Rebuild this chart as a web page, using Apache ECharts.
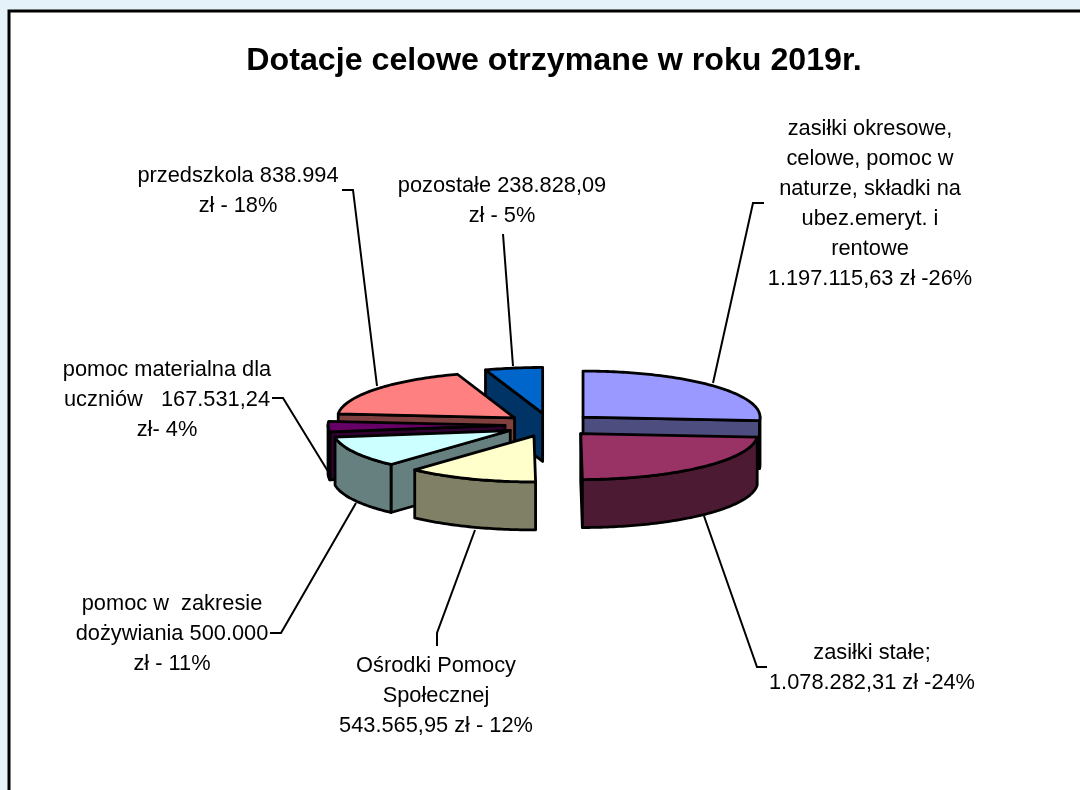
<!DOCTYPE html>
<html>
<head>
<meta charset="utf-8">
<style>html,body{margin:0;padding:0;background:#e5f2fa}#c{width:1080px;height:790px}</style>
<script src="https://cdn.jsdelivr.net/npm/echarts@6/dist/echarts.min.js"></script>
</head>
<body>
<div id="c"></div>
<script>
const titleText = 'Dotacje celowe otrzymane w roku 2019r.';
const categories = ['zasiłki okresowe, celowe, pomoc w naturze, składki na ubez.emeryt. i rentowe', 'zasiłki stałe', 'Ośrodki Pomocy Społecznej', 'pomoc w zakresie dożywiania', 'pomoc materialna dla uczniów', 'przedszkola', 'pozostałe'];
const values = [1197115.63, 1078282.31, 543565.95, 500000, 167531.24, 838994, 238828.09];
const topColors = ['#9999ff', '#993366', '#ffffcc', '#ccffff', '#660066', '#ff8080', '#0066cc'];
const wallColors = ['#4d4d80', '#4d1a33', '#808066', '#668080', '#330033', '#804040', '#003366'];
const labelLines = [
  ['zasiłki okresowe,', 'celowe, pomoc w', 'naturze, składki na', 'ubez.emeryt. i', 'rentowe', '1.197.115,63 zł -26%'],
  ['zasiłki stałe;', '1.078.282,31 zł -24%'],
  ['Ośrodki Pomocy', 'Społecznej', '543.565,95 zł - 12%'],
  ['pomoc w  zakresie', 'dożywiania 500.000', 'zł - 11%'],
  ['pomoc materialna dla', 'uczniów   167.531,24', 'zł- 4%'],
  ['przedszkola 838.994', 'zł - 18%'],
  ['pozostałe 238.828,09', 'zł - 5%']
];
const labelCentres = [[870, 129], [872, 653], [436, 666], [172, 604], [167, 370], [238, 176], [502, 186]];
const leaders = [
  [[713, 383], [753, 203], [764, 203]],
  [[704, 516], [757, 667], [767, 667]],
  [[475, 530], [437, 633], [437, 646]],
  [[356, 503], [281, 633], [270, 633]],
  [[329, 473], [283, 398], [272, 398]],
  [[377, 386], [353, 190], [342, 190]],
  [[513, 366], [503, 234]]
];
const pie = {cx: 550, cy: 425, rx: 177, ry: 46, depth: 48, explode: 45};
const paintOrder = [6, 5, 4, 3, 2, 0, 1];
const LINE = 2.8, FONT = '"Liberation Sans", Arial, sans-serif';

const total = values.reduce((a, b) => a + b, 0);
const startAngles = [];
values.reduce((acc, v, i) => { startAngles[i] = acc / total * 360; return acc + v; }, 0);

function rim(ax, ay, deg, dy) {
  const r = deg * Math.PI / 180;
  return [ax + pie.rx * Math.sin(r), ay - pie.ry * Math.cos(r) + (dy || 0)];
}
function renderSlice(params, api) {
  const i = params.dataIndex;
  const a0 = startAngles[i];
  const a1 = a0 + api.value(0) / total * 360;
  const m = (a0 + a1) / 2 * Math.PI / 180;
  const ax = pie.cx + pie.explode * Math.sin(m);
  const ay = pie.cy - pie.explode * pie.ry / pie.rx * Math.cos(m);
  const z = paintOrder.indexOf(i) * 10;
  const style = (fill) => ({fill, stroke: '#000', lineWidth: LINE, lineJoin: 'round'});
  const kids = [];
  const wall = (deg, zz) => kids.push({type: 'polygon', z2: z + zz, shape: {points: [
    [ax, ay], rim(ax, ay, deg), rim(ax, ay, deg, pie.depth), [ax, ay + pie.depth]]}, style: style(wallColors[i])});
  if (Math.sin(a0 * Math.PI / 180) < 0) wall(a0, 1);
  if (Math.sin(a1 * Math.PI / 180) > 0) wall(a1, 1);
  const lo = Math.max(a0, 90), hi = Math.min(a1, 270);
  if (hi > lo) {
    const up = [], down = [];
    for (let d = lo; d < hi; d += 1) { up.push(rim(ax, ay, d)); down.unshift(rim(ax, ay, d, pie.depth)); }
    up.push(rim(ax, ay, hi)); down.unshift(rim(ax, ay, hi, pie.depth));
    kids.push({type: 'polygon', z2: z + 2, shape: {points: up.concat(down)}, style: style(wallColors[i])});
  }
  const top = [[ax, ay]];
  for (let d = a0; d < a1; d += 1) top.push(rim(ax, ay, d));
  top.push(rim(ax, ay, a1));
  kids.push({type: 'polygon', z2: z + 3, shape: {points: top}, style: style(topColors[i])});
  return {type: 'group', children: kids};
}

const chart = echarts.init(document.getElementById('c'), null, {renderer: 'canvas'});
const graphics = [{
  type: 'rect', z: -10, silent: true,
  shape: {x: 9, y: 11, width: 1090, height: 800},
  style: {fill: '#ffffff', stroke: '#000', lineWidth: 3}
}];
leaders.forEach(pts => graphics.push({
  type: 'polyline', z: 5, silent: true, shape: {points: pts},
  style: {fill: null, stroke: '#000', lineWidth: 2}
}));
labelLines.forEach((lines, i) => graphics.push({
  type: 'text', z: 6, silent: true, x: labelCentres[i][0], y: labelCentres[i][1] - 15,
  style: {text: lines.join('\n'), fill: '#000', align: 'center', verticalAlign: 'top', lineHeight: 30,
    font: '21.8px ' + FONT}
}));
chart.setOption({
  animation: false,
  backgroundColor: '#e5f2fa',
  title: {text: titleText, left: 549, top: 40, textAlign: 'center',
    textStyle: {fontFamily: FONT, fontSize: 32.2, fontWeight: 'bold', color: '#000'}},
  graphic: {elements: graphics},
  series: [{
    type: 'custom', coordinateSystem: 'none', z: 3,
    name: titleText,
    renderItem: renderSlice,
    data: values.map((v, i) => ({name: categories[i], value: [v]}))
  }]
});
</script>
</body>
</html>
